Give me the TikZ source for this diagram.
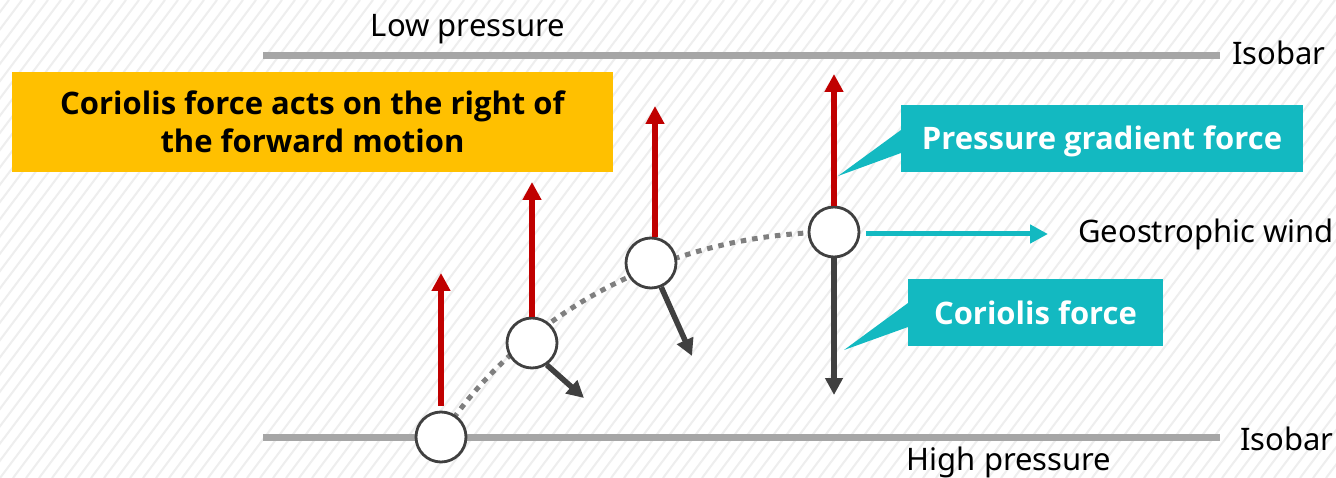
\documentclass[tikz,border=0pt]{standalone}
\usepackage{fontspec}
\setmainfont{Noto Sans}
\newfontfamily\heavysans{Open Sans}
\usetikzlibrary{arrows.meta}
\definecolor{isogray}{HTML}{A6A6A6}
\definecolor{trackgray}{HTML}{7F7F7F}
\definecolor{darkgray}{HTML}{404040}
\definecolor{pgfred}{HTML}{C00000}
\definecolor{teal}{HTML}{13B9C1}
\definecolor{amber}{HTML}{FFC000}
\definecolor{hatch}{HTML}{EEEEEE}
\tikzset{
  hatchline/.style={draw=hatch, line width=2pt},
  isobar/.style={draw=isogray, line width=7pt},
  plain/.style={font=\fontsize{31}{36}\selectfont, inner sep=0pt, text=black},
  parcel/.style={circle, draw=darkgray, line width=2.8pt, fill=white, minimum size=50pt, inner sep=0pt},
  track/.style={draw=trackgray, line width=5pt, dash pattern=on 5.5pt off 6pt},
  pgfarrow/.style={draw=pgfred, line width=6pt, -{Triangle[width=18pt,length=18pt]}},
  corarrow/.style={draw=darkgray, line width=5.5pt, -{Triangle[width=17pt,length=17pt]}},
  windarrow/.style={draw=teal, line width=5pt, -{Triangle[width=18pt,length=18pt]}},
  tealbox/.style={fill=teal, text=white, inner sep=0pt, font=\heavysans\bfseries\fontsize{31}{36}\selectfont},
}
\begin{document}
\begin{tikzpicture}[x=1pt, y=-1pt]
\useasboundingbox (0,0) rectangle (1336,478);
\fill[white] (0,0) rectangle (1336,478);
% diagonal hatching of the backdrop
\begin{scope}
  \clip (0,0) rectangle (1336,478);
  \foreach \i in {-30,...,104}
    \draw[hatchline] (\i*13,478) -- ++(360,-478);
\end{scope}

% isobars
\coordinate (topL) at (263,56);
\coordinate (topR) at (1220,56);
\coordinate (botL) at (263,437);
\coordinate (botR) at (1220,437);
\draw[isobar] (topL) -- (topR);
\draw[isobar] (botL) -- (botR);
\node[plain, anchor=base] (low) at (468,37) {Low pressure};
\node[plain, anchor=base west] (isoTop) at (1232,65) {Isobar};
\node[plain, anchor=base west] (isoBot) at (1240,450) {Isobar};
\node[plain, anchor=base] (high) at (1009,470) {High pressure};

% note box
\node[fill=amber, minimum width=601pt, minimum height=100pt, inner sep=0pt,
      align=center, font=\heavysans\bfseries\fontsize{31}{38}\selectfont] (note) at (312.5,122)
  {Coriolis force acts on the right of\\the forward motion};

% path of the air parcel
\coordinate (t1) at (441,437);
\coordinate (t4) at (834,232);
\draw[track] (t1) .. controls (499,344) and (634,234) .. (t4);
\node[parcel] (c1) at (t1) {};
\node[parcel] (c2) at (532,343) {};
\node[parcel] (c3) at (651,263) {};
\node[parcel] (c4) at (t4) {};

% pressure gradient force
\coordinate (p1) at (441,273);
\coordinate (p2) at (532,182);
\coordinate (p3) at (655,106);
\coordinate (p4) at (834,74);
\draw[pgfarrow, shorten <=5pt] (c1.north) -- (p1);
\draw[pgfarrow] (c2.north) -- (p2);
\draw[pgfarrow] ([xshift=4pt]c3.north) -- (p3);
\draw[pgfarrow] (c4.north) -- (p4);

% Coriolis force
\coordinate (k2) at (584,398);
\coordinate (k3) at (692,356);
\coordinate (k4) at (834,395);
\draw[corarrow] (c2.-56) -- (k2);
\draw[corarrow] (c3.-67) -- (k3);
\draw[corarrow] (c4.south) -- (k4);

% geostrophic wind
\coordinate (w0) at (866,234);
\coordinate (w1) at (1048,234);
\draw[windarrow] (w0) -- (w1);
\node[plain, anchor=base west] (wind) at (1078,243) {Geostrophic wind};

% callouts
\fill[teal] (901,130) -- (838,176) -- (901,153) -- cycle;
\fill[teal] (901,105) rectangle (1303,172);
\node[tealbox, anchor=base] (pgflabel) at (1102,150) {Pressure gradient force};
\fill[teal] (908,303) -- (844,350) -- (908,327) -- cycle;
\fill[teal] (908,279) rectangle (1163,346);
\node[tealbox, anchor=base] (corlabel) at (1035.5,324) {Coriolis force};
\end{tikzpicture}
\end{document}
